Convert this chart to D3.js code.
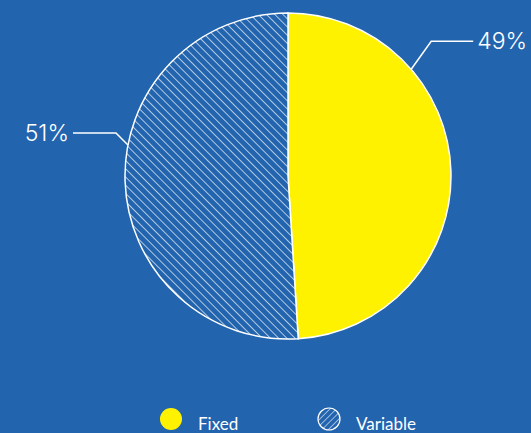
<!DOCTYPE html>
<html><head><meta charset="utf-8">
<script src="https://cdn.jsdelivr.net/npm/d3@7"></script>
<style>html,body{margin:0;padding:0;background:#2264ae;overflow:hidden}</style>
</head><body>
<svg id="c" width="531" height="433"></svg>
<script>
const categories = ["Fixed", "Variable"];
const values = [49, 51];
const labels = ["49%", "51%"];

const W = 531, H = 433, cx = 288, cy = 176, R = 163;
const svg = d3.select("#c");
svg.append("rect").attr("width", W).attr("height", H).attr("fill", "#2264ae");
const defs = svg.append("defs");
const S = 5.8;
const pat = defs.append("pattern").attr("id", "hatch").attr("patternUnits", "userSpaceOnUse")
  .attr("width", S).attr("height", S).attr("patternTransform", "rotate(-45)");
pat.append("rect").attr("width", S).attr("height", S).attr("fill", "#2264ae");
pat.append("line").attr("x1", 0).attr("y1", 0).attr("x2", 0).attr("y2", S).attr("stroke", "#fff").attr("stroke-width", 1.3);
const pat2 = defs.append("pattern").attr("id", "hatch2").attr("patternUnits", "userSpaceOnUse")
  .attr("width", 4.5).attr("height", 4.5).attr("patternTransform", "rotate(45)");
pat2.append("rect").attr("width", 4.5).attr("height", 4.5).attr("fill", "#2264ae");
pat2.append("line").attr("x1", 0).attr("y1", 0).attr("x2", 0).attr("y2", 4.5).attr("stroke", "#fff").attr("stroke-width", 1.1);

const fills = d3.scaleOrdinal().domain(categories).range(["#fff200", "url(#hatch)"]);
const pie = d3.pie().sort(null).value(d => d.v);
const data = pie(categories.map((c, i) => ({c, v: values[i], l: labels[i]})));
const arc = d3.arc().innerRadius(0).outerRadius(R);
const g = svg.append("g").attr("transform", `translate(${cx},${cy})`);
g.selectAll("path").data(data).join("path").attr("d", arc)
  .attr("fill", d => fills(d.data.c)).attr("stroke", "#fff").attr("stroke-width", 1.5);

// leader lines and labels
const leaderAngle = [0.857, -1.38];
const kneeOut = [[20, -28], [-12, -12]];
const runLen = [42, 43];
data.forEach((d, i) => {
  const a = leaderAngle[i];
  const side = Math.sin(a) >= 0 ? 1 : -1;
  const ex = Math.sin(a) * R, ey = -Math.cos(a) * R;
  const kx = ex + kneeOut[i][0], ky = ey + kneeOut[i][1];
  const tx = kx + side * runLen[i];
  g.append("polyline").attr("points", [[ex, ey], [kx, ky], [tx, ky]].map(p => p.join(",")).join(" "))
    .attr("fill", "none").attr("stroke", "#fff").attr("stroke-width", 1.5);
  g.append("text").attr("x", tx + side * 4).attr("y", ky).attr("dy", "0.35em")
    .attr("text-anchor", side > 0 ? "start" : "end")
    .attr("fill", "#fff").attr("font-family", "Inter, sans-serif").attr("font-weight", 300)
    .attr("font-size", 23).text(d.data.l);
});

// legend
const lx = [171, 329];
const lg = svg.append("g");
categories.forEach((c, i) => {
  lg.append("circle").attr("cx", lx[i]).attr("cy", 419).attr("r", 11)
    .attr("fill", i === 0 ? "#fff200" : "url(#hatch2)").attr("stroke", i === 0 ? "none" : "#fff").attr("stroke-width", 1.2);
  lg.append("text").attr("x", lx[i] + 27).attr("y", 430).attr("fill", "#fff")
    .attr("font-family", "Lato, sans-serif").attr("font-size", 17).text(c);
});
</script>
</body></html>
